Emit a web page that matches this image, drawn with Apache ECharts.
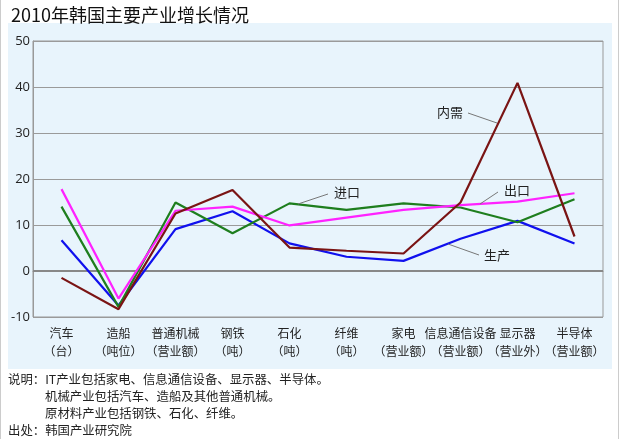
<!DOCTYPE html>
<html><head><meta charset="utf-8">
<script src="https://cdn.jsdelivr.net/npm/echarts@6/dist/echarts.min.js"></script>
<style>html,body{margin:0;padding:0;background:#fff}#c{width:621px;height:439px}</style>
</head><body><div id="c"></div>
<script>
const categories = ['汽车\n（台）','造船\n（吨位）','普通机械\n（营业额）','钢铁\n（吨）','石化\n（吨）','纤维\n（吨）','家电\n（营业额）','信息通信设备\n（营业额）','显示器\n（营业外）','半导体\n（营业额）'];
const neixu   = [-1.5, -8.3, 12.5, 17.6, 5.1, 4.4, 3.8, 14.9, 40.9, 7.5];
const chukou  = [17.8, -6.0, 13.1, 14.0, 9.9, 11.6, 13.3, 14.3, 15.1, 16.9];
const jinkou  = [14.0, -7.8, 14.9, 8.2, 14.7, 13.3, 14.7, 13.8, 10.6, 15.6];
const shengchan = [6.7, -7.5, 9.1, 13.0, 6.0, 3.1, 2.2, 7.0, 10.9, 6.0];
const yTicks = [-10, 0, 10, 20, 30, 40, 50];

const F = '"Noto Sans CJK SC","Microsoft YaHei",sans-serif';
const chart = echarts.init(document.getElementById('c'));
function ser(name, data, color, extra) {
  return Object.assign({ name, type: 'line', data, symbol: 'none', lineStyle: { color, width: 2.2 }, itemStyle: { color }, z: 3 }, extra || {});
}
function ann(text, tx, ty, x1, y1, x2, y2) {
  return [
    { type: 'line', shape: { x1, y1, x2, y2 }, style: { stroke: '#777', lineWidth: 1 }, z: 10 },
    { type: 'text', x: tx, y: ty, style: { text, font: '13px ' + F, fill: '#222', textAlign: 'center', textVerticalAlign: 'middle' }, z: 10 }
  ];
}
const foot = (text, x, y) => ({ type: 'text', x, y, style: { text, font: '12.4px ' + F, fill: '#222', textVerticalAlign: 'middle' } });
chart.setOption({
  animation: false,
  title: { text: '2010年韩国主要产业增长情况', left: 6, top: 1, textStyle: { fontFamily: F, fontSize: 18, fontWeight: 'normal', color: '#111' } },
  grid: { left: 33, right: 18, top: 41, bottom: 122, show: true, borderColor: '#999', borderWidth: 1, backgroundColor: 'transparent' },
  xAxis: {
    type: 'category', data: categories, boundaryGap: true,
    axisLine: { lineStyle: { color: '#999' } },
    axisTick: { alignWithLabel: true, inside: true, length: 5, lineStyle: { color: '#999' } },
    axisLabel: { interval: 0, fontFamily: F, fontSize: 12, lineHeight: 18, color: '#222', margin: 7 }
  },
  yAxis: {
    type: 'value', min: yTicks[0], max: yTicks[yTicks.length - 1], interval: 10,
    axisLine: { show: true, lineStyle: { color: '#999' } },
    axisTick: { show: false },
    splitLine: { lineStyle: { color: '#9a9a9a', width: 1 } },
    axisLabel: { fontFamily: 'Open Sans, sans-serif', fontSize: 13, color: '#222', margin: 3 }
  },
  series: [
    ser('生产', shengchan, '#1010ee', { markLine: { silent: true, symbol: 'none', label: { show: false }, lineStyle: { color: '#888', width: 2, type: 'solid' }, data: [{ yAxis: 0 }], z: 2 } }),
    ser('进口', jinkou, '#1e7e1e'),
    ser('出口', chukou, '#ff22ff'),
    ser('内需', neixu, '#7a1414')
  ],
  graphic: [
    { type: 'rect', shape: { x: 8, y: 23, width: 604, height: 346 }, style: { fill: '#e8f4fc' }, z: -10 },
    { type: 'line', shape: { x1: 0.5, y1: 0, x2: 0.5, y2: 439 }, style: { stroke: '#ccc', lineWidth: 1 } },
    { type: 'line', shape: { x1: 618.5, y1: 0, x2: 618.5, y2: 439 }, style: { stroke: '#ccc', lineWidth: 1 } },
    ...ann('内需', 450, 112, 468, 113, 497, 123),
    ...ann('进口', 347, 192, 328, 194, 298, 204),
    ...ann('出口', 517, 190, 498, 192, 480, 204),
    ...ann('生产', 497, 255, 479, 255, 448, 244),
    foot('说明：IT产业包括家电、信息通信设备、显示器、半导体。', 8, 379),
    foot('机械产业包括汽车、造船及其他普通机械。', 45, 396),
    foot('原材料产业包括钢铁、石化、纤维。', 45, 413),
    foot('出处：韩国产业研究院', 8, 430)
  ]
});
</script></body></html>
